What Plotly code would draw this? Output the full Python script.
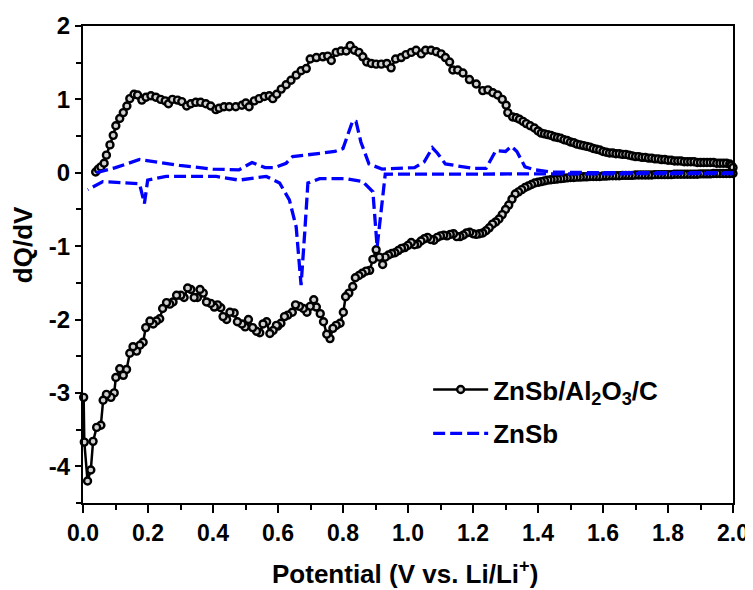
import plotly.graph_objects as go

# ---------------- data ----------------
# ZnSb/Al2O3/C : charge branch (positive dQ/dV)
c_charge_v = [0.039, 0.047, 0.055, 0.065, 0.072, 0.083, 0.093, 0.101, 0.113, 0.124, 0.135, 0.144,
              0.157, 0.168, 0.181, 0.194, 0.209, 0.224, 0.239, 0.253, 0.263, 0.275, 0.291, 0.304,
              0.319, 0.332, 0.347, 0.362, 0.378, 0.393, 0.409, 0.419, 0.434, 0.450, 0.470, 0.489,
              0.501, 0.511, 0.527, 0.542, 0.558, 0.573, 0.584, 0.596, 0.610, 0.625, 0.640, 0.656,
              0.671, 0.687, 0.699, 0.718, 0.738, 0.753, 0.764, 0.779, 0.794, 0.810, 0.822, 0.835,
              0.849, 0.861, 0.873, 0.887, 0.902, 0.918, 0.935, 0.948, 0.962, 0.979, 0.994, 1.010,
              1.025, 1.041, 1.054, 1.071, 1.087, 1.102, 1.115, 1.128, 1.138, 1.153, 1.169, 1.189,
              1.210, 1.230, 1.246, 1.261, 1.276, 1.290, 1.302, 1.307, 1.322, 1.333, 1.343, 1.354,
              1.364, 1.376, 1.389, 1.40, 1.41, 1.42, 1.43, 1.44, 1.45, 1.46, 1.47, 1.48, 1.49,
              1.50, 1.51, 1.52, 1.53, 1.54, 1.55, 1.56, 1.57, 1.58, 1.59, 1.60, 1.61, 1.62, 1.63,
              1.64, 1.65, 1.66, 1.67, 1.68, 1.69, 1.70, 1.71, 1.72, 1.73, 1.74, 1.75, 1.76, 1.77,
              1.78, 1.79, 1.80, 1.81, 1.82, 1.83, 1.84, 1.85, 1.86, 1.87, 1.88, 1.89, 1.90, 1.91,
              1.92, 1.93, 1.94, 1.95, 1.96, 1.97, 1.98, 1.99, 1.995, 2.00]
c_charge_dq = [0.01, 0.05, 0.08, 0.13, 0.24, 0.38, 0.51, 0.64, 0.74, 0.82, 0.91, 1.01,
               1.07, 1.06, 0.99, 1.03, 1.05, 1.03, 1.00, 0.98, 0.94, 1.00, 0.99, 0.97,
               0.91, 0.94, 0.96, 0.96, 0.94, 0.91, 0.86, 0.88, 0.90, 0.90, 0.90, 0.92,
               0.95, 0.90, 0.98, 1.01, 1.04, 1.05, 1.01, 1.07, 1.14, 1.20, 1.26, 1.33,
               1.39, 1.42, 1.55, 1.57, 1.58, 1.59, 1.53, 1.64, 1.66, 1.66, 1.73, 1.67,
               1.64, 1.58, 1.51, 1.49, 1.48, 1.48, 1.49, 1.43, 1.55, 1.57, 1.61, 1.64,
               1.67, 1.62, 1.67, 1.67, 1.65, 1.62, 1.57, 1.51, 1.40, 1.40, 1.36, 1.27,
               1.21, 1.12, 1.13, 1.09, 1.06, 1.00, 0.92, 0.82, 0.76, 0.75, 0.73, 0.70,
               0.67, 0.64, 0.61, 0.57, 0.54, 0.53, 0.52, 0.51, 0.49, 0.48, 0.47, 0.45, 0.44,
               0.42, 0.41, 0.39, 0.38, 0.37, 0.36, 0.35, 0.33, 0.32, 0.31, 0.29, 0.28, 0.27, 0.27,
               0.26, 0.26, 0.25, 0.25, 0.24, 0.23, 0.22, 0.22, 0.21, 0.21, 0.20, 0.20, 0.19, 0.19,
               0.18, 0.18, 0.17, 0.17, 0.16, 0.16, 0.16, 0.15, 0.15, 0.15, 0.15, 0.14, 0.14, 0.14,
               0.14, 0.14, 0.14, 0.13, 0.13, 0.13, 0.13, 0.12, 0.10, 0.07]

# ZnSb/Al2O3/C : discharge branch (negative dQ/dV), from 2.0 V down to 0 V
c_dis_v = [2.00, 1.99, 1.98, 1.97, 1.96, 1.95, 1.94, 1.93, 1.92, 1.91, 1.90, 1.89, 1.88, 1.87,
           1.86, 1.85, 1.84, 1.83, 1.82, 1.81, 1.80, 1.79, 1.78, 1.77, 1.76, 1.75, 1.74, 1.73,
           1.72, 1.71, 1.70, 1.69, 1.68, 1.67, 1.66, 1.65, 1.64, 1.63, 1.62, 1.61, 1.60, 1.59,
           1.58, 1.57, 1.56, 1.55, 1.54, 1.53, 1.52, 1.51, 1.50, 1.49, 1.48, 1.47, 1.46, 1.45,
           1.44, 1.43, 1.42, 1.41, 1.40, 1.39, 1.38, 1.37, 1.36, 1.35, 1.34, 1.33, 1.32, 1.31,
           1.30, 1.29, 1.28, 1.27, 1.26, 1.25, 1.24, 1.23, 1.22, 1.21, 1.20, 1.19, 1.18, 1.17,
           1.16, 1.15, 1.14, 1.13, 1.12, 1.11, 1.10, 1.09, 1.08, 1.07, 1.06, 1.05, 1.04, 1.03,
           1.02, 1.01, 1.00, 0.99, 0.98, 0.97, 0.96, 0.95, 0.94, 0.93, 0.922, 0.912, 0.902,
           0.892, 0.882, 0.871, 0.859, 0.849, 0.838, 0.830, 0.818, 0.808, 0.801, 0.791, 0.779,
           0.769, 0.760, 0.750, 0.740, 0.730, 0.718, 0.710, 0.699, 0.689, 0.678, 0.666, 0.654,
           0.644, 0.630, 0.620, 0.609, 0.599, 0.595, 0.585, 0.575, 0.565, 0.554, 0.544, 0.534,
           0.522, 0.509, 0.499, 0.489, 0.475, 0.465, 0.452, 0.442, 0.431, 0.424, 0.414, 0.404,
           0.393, 0.380, 0.370, 0.360, 0.352, 0.342, 0.332, 0.322, 0.311, 0.301, 0.288, 0.277,
           0.267, 0.257, 0.245, 0.236, 0.226, 0.216, 0.206, 0.193, 0.185, 0.175, 0.165, 0.154,
           0.144, 0.134, 0.124, 0.113, 0.101, 0.096, 0.086, 0.072, 0.062, 0.055, 0.042, 0.031,
           0.024, 0.014, 0.004, 0.002]
c_dis_dq = [-0.01, -0.01, -0.01, -0.01, -0.01, -0.01, -0.01, -0.015, -0.015, -0.015, -0.015, -0.02, -0.02, -0.02,
            -0.02, -0.02, -0.02, -0.02, -0.02, -0.025, -0.025, -0.025, -0.025, -0.025, -0.025, -0.03, -0.03, -0.03,
            -0.03, -0.03, -0.03, -0.035, -0.035, -0.035, -0.035, -0.04, -0.04, -0.04, -0.04, -0.045, -0.045, -0.05,
            -0.05, -0.05, -0.05, -0.055, -0.055, -0.06, -0.06, -0.065, -0.065, -0.07, -0.075, -0.08, -0.085, -0.09,
            -0.095, -0.10, -0.11, -0.12, -0.13, -0.14, -0.16, -0.18, -0.20, -0.23, -0.26, -0.29, -0.36, -0.44,
            -0.50, -0.57, -0.63, -0.67, -0.70, -0.75, -0.79, -0.82, -0.83, -0.84, -0.83, -0.81, -0.82, -0.85,
            -0.87, -0.87, -0.83, -0.84, -0.86, -0.85, -0.86, -0.88, -0.92, -0.91, -0.88, -0.90, -0.93, -0.97,
            -0.98, -0.95, -0.99, -1.02, -1.03, -1.06, -1.09, -1.10, -1.12, -1.15, -1.25, -1.15, -1.05,
            -1.18, -1.33, -1.34, -1.37, -1.40, -1.43, -1.55, -1.64, -1.69, -1.90, -2.05, -2.08,
            -2.12, -2.26, -2.20, -2.03, -1.92, -1.83, -1.73, -1.82, -1.90, -1.85, -1.82, -1.80,
            -1.90, -1.94, -1.96, -2.05, -2.09, -2.08, -2.15, -2.19, -2.03, -2.06, -2.18, -2.16,
            -2.11, -2.00, -2.10, -2.06, -2.03, -1.91, -1.90, -2.00, -1.96, -1.84, -1.80, -1.83,
            -1.78, -1.76, -1.64, -1.59, -1.70, -1.70, -1.59, -1.57, -1.70, -1.67, -1.67, -1.76,
            -1.79, -1.77, -1.85, -1.99, -2.02, -2.06, -2.02, -2.11, -2.31, -2.35, -2.43, -2.37,
            -2.46, -2.68, -2.76, -2.67, -2.79, -3.00, -3.06, -3.02, -3.10, -3.44, -3.47, -3.66,
            -4.05, -4.20, -3.67, -3.06]

# ZnSb : charge branch
z_charge_v = [0.041, 0.10, 0.174, 0.297, 0.40, 0.48, 0.52, 0.56, 0.59, 0.625, 0.645, 0.70, 0.775,
              0.80, 0.83, 0.84, 0.855, 0.88, 0.92, 1.02, 1.05, 1.075, 1.09, 1.115, 1.20, 1.24,
              1.27, 1.30, 1.318, 1.335, 1.36, 1.39, 1.44, 1.60, 2.00]
z_charge_dq = [0.00, 0.07, 0.18, 0.10, 0.05, 0.04, 0.14, 0.07, 0.07, 0.13, 0.22, 0.25, 0.29,
               0.33, 0.71, 0.70, 0.42, 0.12, 0.05, 0.07, 0.15, 0.34, 0.27, 0.12, 0.06, 0.06,
               0.30, 0.29, 0.36, 0.29, 0.08, 0.04, 0.01, 0.00, 0.00]

# ZnSb : discharge branch, from 2.0 V down
z_dis_v = [2.00, 1.40, 0.93, 0.905, 0.892, 0.861, 0.81, 0.728, 0.692, 0.682, 0.671, 0.656, 0.635,
           0.605, 0.564, 0.48, 0.41, 0.256, 0.199, 0.189, 0.174, 0.061, 0.015]
z_dis_dq = [-0.01, -0.01, -0.02, -1.01, -0.26, -0.12, -0.08, -0.08, -0.14, -0.83, -1.53, -0.74, -0.37,
            -0.14, -0.05, -0.10, -0.05, -0.05, -0.10, -0.42, -0.15, -0.12, -0.23]

x_ticks = [0.0, 0.2, 0.4, 0.6, 0.8, 1.0, 1.2, 1.4, 1.6, 1.8, 2.0]
x_ticktext = ["0.0", "0.2", "0.4", "0.6", "0.8", "1.0", "1.2", "1.4", "1.6", "1.8", "2.0"]
y_ticks = [-4, -3, -2, -1, 0, 1, 2]
y_ticktext = ["-4", "-3", "-2", "-1", "0", "1", "2"]

FONT = "Liberation Sans, Arial, sans-serif"

fig = go.Figure()
fig.add_trace(go.Scatter(
    x=c_charge_v + c_dis_v, y=c_charge_dq + c_dis_dq,
    mode="lines+markers", name="ZnSb/Al<sub>2</sub>O<sub>3</sub>/C",
    legendgroup="a",
    line=dict(color="black", width=2.5),
    marker=dict(size=7, color="#d0d0d0", line=dict(color="black", width=2.4)),
    cliponaxis=False,
))
fig.add_trace(go.Scatter(
    x=z_charge_v + [None] + z_dis_v, y=z_charge_dq + [None] + z_dis_dq,
    mode="lines", name="ZnSb", connectgaps=False, legendgroup="b",
    line=dict(color="#0000ff", width=3.3, dash="12px,5px"),
    cliponaxis=False,
))

# the page body has an 8 px margin, so the figure is 8 px smaller in each direction
fig.update_layout(
    width=745, height=582,
    margin=dict(l=75, r=20, t=18, b=87),
    plot_bgcolor="white", paper_bgcolor="white",
    font=dict(family=FONT, color="black", size=22, weight="bold"),
    showlegend=True,
    legend=dict(x=0.531, y=0.287, xanchor="left", yanchor="top",
                font=dict(size=26, family=FONT, weight="bold"),
                bgcolor="rgba(0,0,0,0)", itemwidth=55, tracegroupgap=7),
    xaxis=dict(range=[0, 2.0], tickvals=x_ticks, ticktext=x_ticktext,
               ticks="outside", ticklen=8, tickwidth=2, tickcolor="black",
               minor=dict(dtick=0.1, ticks="outside", ticklen=5, tickwidth=2, tickcolor="black"),
               showline=True, linewidth=2, linecolor="black", mirror=True,
               showgrid=False, zeroline=False, automargin=False,
               tickfont=dict(size=23, family=FONT, weight="bold")),
    yaxis=dict(range=[-4.5, 2.0], tickvals=y_ticks, ticktext=y_ticktext,
               ticks="outside", ticklen=6, tickwidth=2, tickcolor="black",
               minor=dict(dtick=0.5, ticks="outside", ticklen=5, tickwidth=2, tickcolor="black"),
               showline=True, linewidth=2, linecolor="black", mirror=True,
               showgrid=False, zeroline=False, automargin=False,
               tickfont=dict(size=24, family=FONT, weight="bold")),
)
fig.add_annotation(text="Potential (V vs. Li/Li<sup>+</sup>)", xref="paper", yref="paper",
                   x=0.495, y=-0.145, xanchor="center", yanchor="middle", showarrow=False,
                   font=dict(size=26, family=FONT, weight="bold"))
fig.add_annotation(text="dQ/dV", xref="paper", yref="paper", textangle=-90,
                   x=-0.092, y=0.541, xanchor="center", yanchor="middle", showarrow=False,
                   font=dict(size=26, family=FONT, weight="bold"))

fig.write_html("out.html")
